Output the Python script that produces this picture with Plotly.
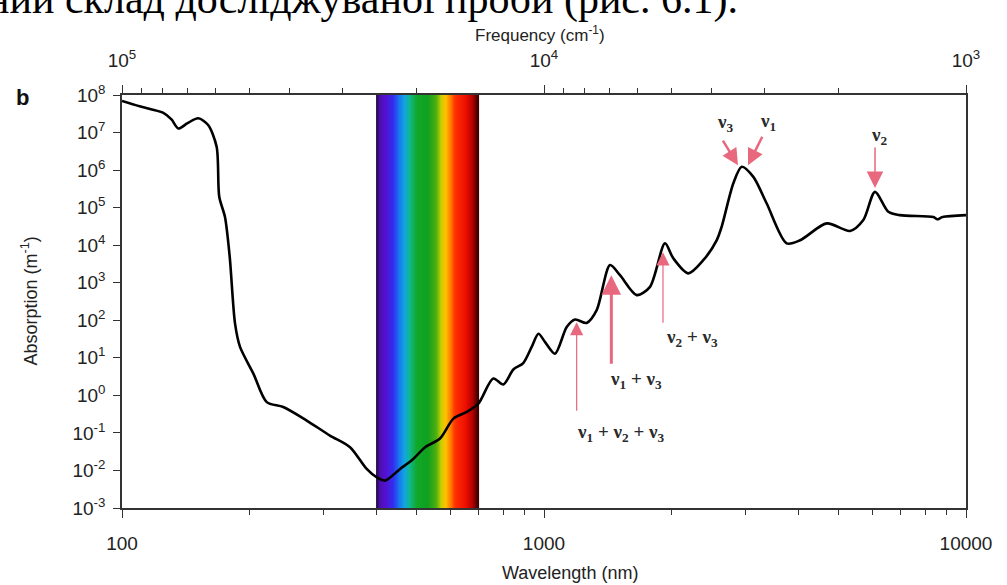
import numpy as np
import plotly.graph_objects as go

# ---- data ----
wavelength_nm = [100, 110, 125, 131, 136, 143, 151.6, 160, 167.6, 170, 175.4, 180, 185.3,
                 190.4, 204.8, 220.3, 241, 274, 311, 347, 380, 401, 420, 456, 486, 523,
                 567, 610, 656, 699, 758, 801, 846, 893, 935, 970, 1006, 1062, 1132, 1185,
                 1262, 1333, 1434, 1514, 1658, 1783, 1935, 2025, 2198, 2385, 2565, 2636,
                 2810, 2941, 3134, 3371, 3759, 4044, 4677, 5311, 5711, 6087, 6546, 6976,
                 8367, 8550, 8800, 10000]
log_absorption = [7.84, 7.70, 7.53, 7.35, 7.11, 7.25, 7.38, 7.2, 6.62, 5.29, 4.75, 3.69, 1.91,
                  1.29, 0.58, -0.18, -0.31, -0.67, -1.07, -1.38, -1.96, -2.18, -2.27, -1.96,
                  -1.73, -1.38, -1.15, -0.62, -0.44, -0.22, 0.45, 0.29, 0.69, 0.86, 1.29, 1.64,
                  1.42, 1.11, 1.82, 2.02, 1.93, 2.27, 3.47, 3.2, 2.67, 2.89, 4.05, 3.65, 3.25,
                  3.6, 4.13, 4.49, 5.65, 6.09, 5.82, 5.11, 4.05, 4.13, 4.58, 4.38, 4.67, 5.42,
                  4.89, 4.8, 4.75, 4.69, 4.75, 4.8]
absorption = [10 ** v for v in log_absorption]

# visible-spectrum band
band_edges_nm = [400, 700]
band_stop_nm = [400, 407, 420, 440, 452, 468, 480, 500, 530, 556, 570, 585, 600, 615, 650, 678, 700]
band_stop_color = ["#1e0838", "#4a10a8", "#5510d0", "#3030f0", "#1a70f0", "#10a8e0", "#10b890",
                   "#10a828", "#10a020", "#50b010", "#c8d000", "#ffc000", "#ff8000", "#ff3000",
                   "#f01000", "#b00000", "#300000"]

# axes ticks
y_tick_exp = list(range(-3, 9))
x_major = [100, 1000, 10000]
x_minor = [200, 300, 400, 500, 600, 700, 800, 900, 2000, 3000, 4000, 5000, 6000, 7000, 8000, 9000]
freq_major = [1e5, 1e4, 1e3]
freq_minor = [9e4, 8e4, 7e4, 6e4, 5e4, 4e4, 3e4, 2e4, 9e3, 8e3, 7e3, 6e3, 5e3, 4e3, 3e3, 2e3]

# band labels
arrow_names = ["ν<sub>3</sub>", "ν<sub>1</sub>", "ν<sub>2</sub>", "ν<sub>2</sub> + ν<sub>3</sub>",
               "ν<sub>1</sub> + ν<sub>3</sub>", "ν<sub>1</sub> + ν<sub>2</sub> + ν<sub>3</sub>"]
arrow_head_nm = [2882, 3044, 6087, 1914, 1444, 1195]
arrow_head_logA = [6.13, 6.13, 5.52, 3.81, 3.2, 1.95]
arrow_dx = [-16, 15, 0, 0, 0, 0]
arrow_dy = [-26, -30, -42, 72, 90, 90]
arrow_width = [2.5, 2.5, 1.5, 1.2, 3, 1.2]
label_nm = [2685, 3396, 6250, 2243, 1652, 1514]
label_logA = [7.25, 7.27, 6.9, 1.52, 0.4, -0.99]

FONT = "Liberation Sans Narrow, Liberation Sans, Arial, sans-serif"
AX = "#333333"

fig = go.Figure()

# colour band as heatmap
edges = np.linspace(band_edges_nm[0], band_edges_nm[1], 151)
centers = (edges[:-1] + edges[1:]) / 2
span = band_edges_nm[1] - band_edges_nm[0]
cscale = [[(w - band_edges_nm[0]) / span, c] for w, c in zip(band_stop_nm, band_stop_color)]
fig.add_trace(go.Heatmap(x=edges, y=[0, 1], z=[centers], colorscale=cscale,
                         zmin=band_edges_nm[0], zmax=band_edges_nm[1], showscale=False,
                         hoverinfo="skip", xaxis="x", yaxis="y"))

fig.add_trace(go.Scatter(x=wavelength_nm, y=absorption, mode="lines",
                         line=dict(color="black", width=2.6, shape="spline", smoothing=0.8),
                         xaxis="x", yaxis="y2", showlegend=False))
# invisible trace to carry the frequency axis
fig.add_trace(go.Scatter(x=[1e7 / w for w in wavelength_nm], y=absorption, mode="lines",
                         line=dict(width=0), opacity=0, hoverinfo="skip",
                         xaxis="x2", yaxis="y2", showlegend=False))

annotations = []
for i in range(len(arrow_names)):
    annotations.append(dict(x=np.log10(arrow_head_nm[i]), y=arrow_head_logA[i], xref="x", yref="y2",
                            text="", showarrow=True, ax=arrow_dx[i], ay=arrow_dy[i],
                            arrowhead=2, arrowsize=1.3 if arrow_width[i] > 2 else 2.2,
                            arrowwidth=arrow_width[i], arrowcolor="#e8687e"))
    annotations.append(dict(x=np.log10(label_nm[i]), y=label_logA[i], xref="x", yref="y2",
                            text="<b>" + arrow_names[i] + "</b>", showarrow=False,
                            xanchor="center", yanchor="middle",
                            font=dict(family="Liberation Serif, serif", size=19, color="#2a2a2a")))

annotations += [
    dict(text="Frequency (cm<sup>-1</sup>)", x=(540 - 122) / 844, y=(508 - 34) / 413,
         xref="paper", yref="paper", xanchor="center", yanchor="middle",
         showarrow=False, font=dict(family=FONT, size=17, color="#222")),
    dict(text="Wavelength (nm)", x=(570 - 122) / 844, y=(508 - 573) / 413,
         xref="paper", yref="paper", xanchor="center", yanchor="middle",
         showarrow=False, font=dict(family=FONT, size=18, color="#222")),
    dict(text="Absorption (m<sup>-1</sup>)", x=(30 - 122) / 844, y=0.5,
         xref="paper", yref="paper", xanchor="center", yanchor="middle",
         showarrow=False, textangle=-90, font=dict(family=FONT, size=18, color="#222")),
    dict(text="<b>b</b>", x=(22 - 122) / 844, y=(508 - 97) / 413,
         xref="paper", yref="paper", xanchor="center", yanchor="middle",
         showarrow=False, font=dict(family="Liberation Sans, Arial", size=22, color="#111")),
    dict(text="ний склад досліджуваної проби (рис. 6.1).", x=(740 - 122) / 844, y=(508 - 25) / 413,
         xref="paper", yref="paper", xanchor="right", yanchor="bottom", showarrow=False,
         font=dict(family="Liberation Serif, Times New Roman, serif", size=42, color="black")),
]

fig.update_layout(
    width=1007, height=585,
    margin=dict(l=122, r=41, t=95, b=77),
    paper_bgcolor="white", plot_bgcolor="white",
    showlegend=False,
    annotations=annotations,
    xaxis=dict(type="log", range=[2, 4], anchor="y2",
               tickvals=x_major, ticktext=[str(v) for v in x_major],
               ticks="outside", ticklen=8, tickwidth=1.3, tickcolor=AX,
               minor=dict(tickvals=x_minor, ticks="outside", ticklen=5, tickcolor=AX),
               showline=True, linecolor=AX, linewidth=1.5, showgrid=False, zeroline=False,
               ticklabelstandoff=9,
               tickfont=dict(family=FONT, size=19, color="#222")),
    xaxis2=dict(type="log", range=[5, 3], overlaying="x", side="top", anchor="y2",
                tickvals=freq_major, ticktext=["10<sup>5</sup>", "10<sup>4</sup>", "10<sup>3</sup>"],
                ticks="outside", ticklen=8, tickwidth=1.3, tickcolor=AX,
                minor=dict(tickvals=freq_minor, ticks="outside", ticklen=5, tickcolor=AX),
                showline=True, linecolor=AX, linewidth=1.5, showgrid=False, zeroline=False,
                ticklabelstandoff=11,
                tickfont=dict(family=FONT, size=19, color="#222")),
    yaxis=dict(range=[0, 1], visible=False, fixedrange=True),
    yaxis2=dict(type="log", range=[-3, 8], overlaying="y", side="left", anchor="x",
                tickvals=[10.0 ** e for e in y_tick_exp],
                ticktext=["10<sup>%d</sup>" % e for e in y_tick_exp],
                ticks="outside", ticklen=7, tickwidth=1.3, tickcolor=AX,
                showline=True, linecolor=AX, linewidth=1.5, mirror=True,
                showgrid=False, zeroline=False, ticklabelstandoff=4,
                tickfont=dict(family=FONT, size=19, color="#222")),
)

fig.write_html("out.html", config={"displayModeBar": False},
               post_script="document.body.style.margin='0';")
